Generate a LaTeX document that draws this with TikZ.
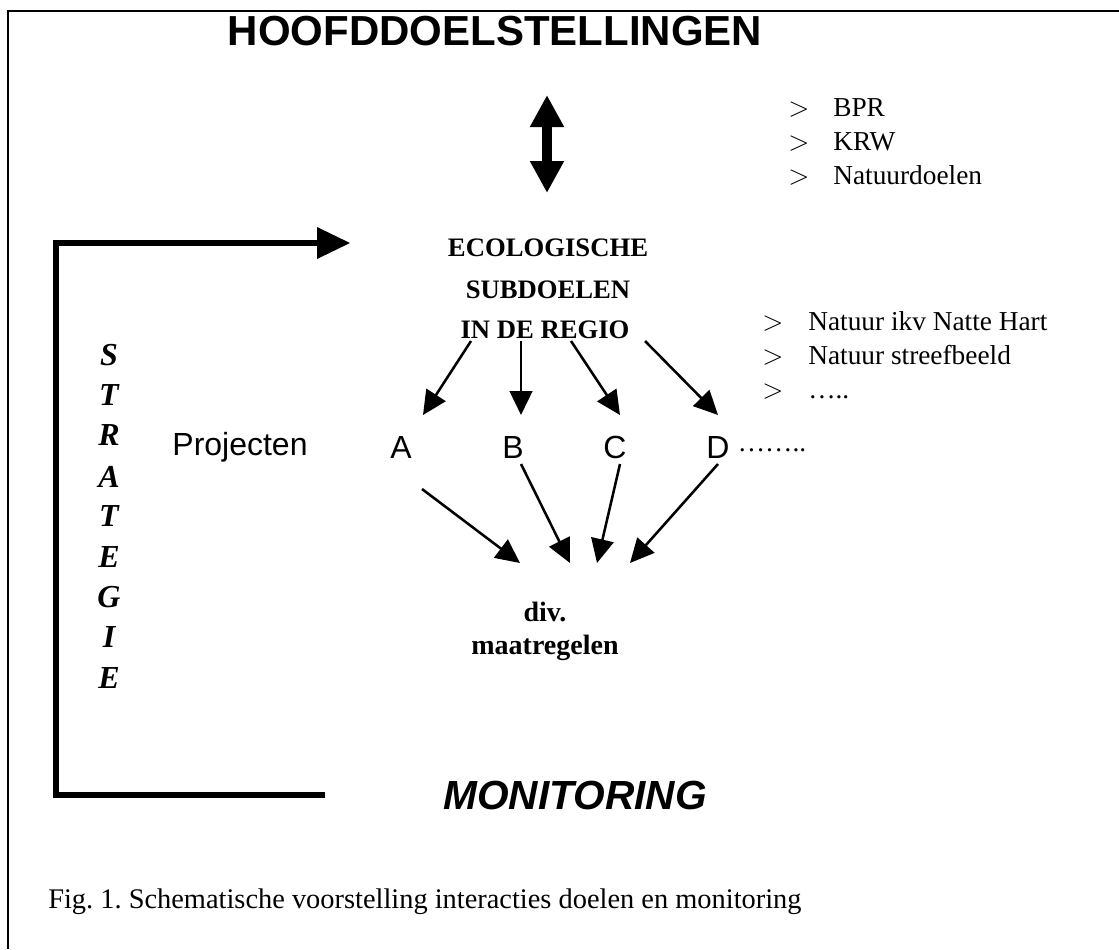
\documentclass[tikz,border=0pt]{standalone}
\usepackage{fontspec}
\setmainfont{Liberation Serif}
\setsansfont{Liberation Sans}
\usetikzlibrary{arrows.meta}
\frenchspacing
\begin{document}
\begin{tikzpicture}[x=0.75pt,y=-0.75pt,
  frameline/.style={line width=1.5pt},
  thick bar/.style={line width=4.5pt},
  flow/.style={line width=1.9pt,-{Triangle[length=18pt,width=17pt]}},
  serif20/.style={font=\fontsize{20.5}{24}\selectfont, inner sep=0pt},
  letterbox/.style={font=\fontsize{24}{28}\selectfont\bfseries\itshape, inner sep=0pt},
  sans23/.style={font=\fontsize{24}{28}\selectfont\sffamily, inner sep=0pt},
  ecobox/.style={font=\fontsize{20}{30}\selectfont\bfseries, align=center, inner sep=0pt}]
\useasboundingbox (0,0) rectangle (1119,949);
\fill[white] (0,0) rectangle (1119,949);
% frame
\draw[frameline] (1119,11) -- (8,11) -- (8,949);
% title
\node[font=\fontsize{31.5}{36}\selectfont\sffamily\bfseries, inner sep=0pt] (hoofd) at (495,31) {HOOFDDOELSTELLINGEN};
% double arrow
\coordinate (dtop) at (547,95);
\coordinate (dbot) at (547,193);
\draw[line width=7pt, {Triangle[length=24pt,width=24pt]}-{Triangle[length=24pt,width=24pt]}] (dtop) -- (dbot);
% list 1
\node[serif20, anchor=base west] (g1) at (788,116) {$>$};
\node[serif20, anchor=base west] (l1) at (833,116) {BPR};
\node[serif20, anchor=base west] (g2) at (788,150) {$>$};
\node[serif20, anchor=base west] (l2) at (833,150) {KRW};
\node[serif20, anchor=base west] (g3) at (788,184) {$>$};
\node[serif20, anchor=base west] (l3) at (833,184) {Natuurdoelen};
% eco subdoelen
\node[ecobox] (eco1) at (548,248) {ECOLOGISCHE};
\node[ecobox] (eco2) at (548,290) {SUBDOELEN};
\node[ecobox] (eco3) at (545,330) {IN DE REGIO};
% list 2
\node[serif20, anchor=base west] (h1) at (762,330) {$>$};
\node[serif20, anchor=base west] (m1) at (808,330) {Natuur ikv Natte Hart};
\node[serif20, anchor=base west] (h2) at (762,364) {$>$};
\node[serif20, anchor=base west] (m2) at (808,364) {Natuur streefbeeld};
\node[serif20, anchor=base west] (h3) at (762,398) {$>$};
\node[serif20, anchor=base west] (m3) at (808,398) {\dots..};
% strategie bracket
\coordinate (sb) at (56,795);
\coordinate (sc) at (56,243);
\coordinate (sf) at (325,795);
\draw[thick bar] (sf) -- (sb) -- (sc) -- (322,243);
\fill (317,227) -- (350,243) -- (317,259) -- cycle;
% strategie letters
\foreach \L/\yy [count=\i] in {S/355,T/395,R/435,A/477,T/516,E/557,G/597,I/637,E/678}
  \node[letterbox] (st\i) at (109,\yy) {\L};
% projecten row
\node[sans23] (proj) at (240,447) {Projecten};
\node[sans23] (pa) at (401,447) {A};
\node[sans23] (pb) at (513,447) {B};
\node[sans23] (pc) at (615,447) {C};
\node[sans23] (pd) at (718,447) {D};
\node[serif20] (pdots) at (772,450) {\dots\dots..};
% arrows eco -> projects
\coordinate (ea) at (471,341);
\coordinate (eb) at (521,341);
\coordinate (ec) at (571,341);
\coordinate (ed) at (645,341);
\coordinate (ta) at (423,415);
\coordinate (tb) at (521,415);
\coordinate (tc) at (620,415);
\coordinate (td) at (718,415);
\draw[flow] (ea) -- (ta);
\draw[flow] (eb) -- (tb);
\draw[flow] (ec) -- (tc);
\draw[flow] (ed) -- (td);
% arrows projects -> maatregelen
\coordinate (fa) at (422,489);
\coordinate (fb) at (521,464);
\coordinate (fc) at (620,464);
\coordinate (fd) at (718,464);
\coordinate (ma) at (520,563);
\coordinate (mb) at (570,563);
\coordinate (mc) at (597,563);
\coordinate (md) at (630,563);
\draw[flow] (fa) -- (ma);
\draw[flow] (fb) -- (mb);
\draw[flow] (fc) -- (mc);
\draw[flow] (fd) -- (md);
% maatregelen
\node[ecobox, font=\fontsize{21}{30}\selectfont\bfseries] (div) at (545,612) {div.};
\node[ecobox, font=\fontsize{21}{30}\selectfont\bfseries] (maat) at (545,648) {maatregelen};
% monitoring
\node[font=\fontsize{30.5}{34}\selectfont\sffamily\bfseries\itshape, inner sep=0pt] (mon) at (575,795) {MONITORING};
% caption
\node[serif20, font=\fontsize{21.3}{24}\selectfont, anchor=base west] (cap) at (48,908) {Fig. 1. Schematische voorstelling interacties doelen en monitoring};
\end{tikzpicture}
\end{document}
